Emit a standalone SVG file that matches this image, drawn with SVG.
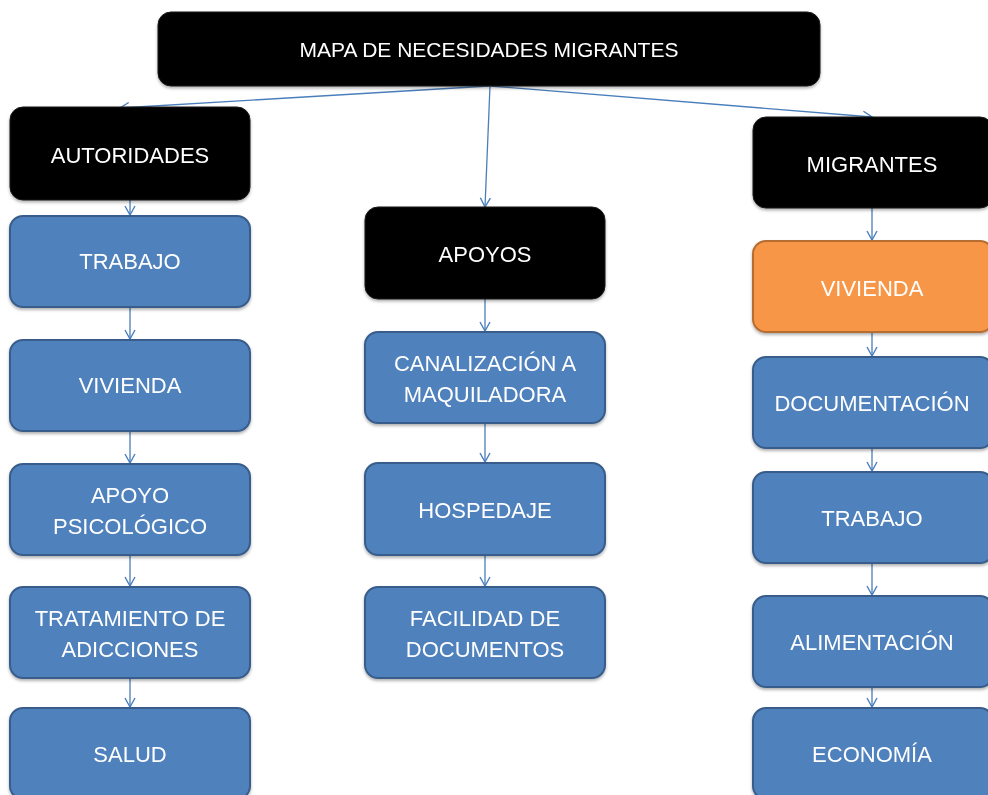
<svg xmlns="http://www.w3.org/2000/svg" width="988" height="795" viewBox="0 0 988 795">
<style>
.lbl{font-family:"Liberation Sans",Arial,sans-serif;font-size:22px;fill:#ffffff;text-anchor:middle}
.title{font-size:21px}
.blk{fill:#000000;stroke:#1a1a1a;stroke-width:1}
.blu{fill:#4F81BD;stroke:#385D8A;stroke-width:2}
.org{fill:#F79646;stroke:#B66D31;stroke-width:2}
.con{stroke:#4A7EBB;stroke-width:1.3;fill:none;marker-end:url(#ah)}
</style>
<defs>
<marker id="ah" viewBox="-11 -7 12 14" refX="0" refY="0" markerWidth="12" markerHeight="14" markerUnits="userSpaceOnUse" orient="auto">
<path d="M-9,-5 L0,0 L-9,5" fill="none" stroke="#4A7EBB" stroke-width="1.4"/>
</marker>
<filter id="sh" x="-10%" y="-10%" width="120%" height="130%">
<feDropShadow dx="0" dy="2" stdDeviation="1.5" flood-color="#000" flood-opacity="0.3"/>
</filter>
</defs>
<rect width="988" height="795" fill="#ffffff"/>

<g id="connectors">
<line class="con" x1="489" y1="86" x2="120" y2="108"/>
<line class="con" x1="490" y1="86" x2="485" y2="207"/>
<line class="con" x1="490" y1="86" x2="872" y2="117"/>
<line class="con" x1="130" y1="200" x2="130" y2="215"/>
<line class="con" x1="130" y1="307" x2="130" y2="339"/>
<line class="con" x1="130" y1="431" x2="130" y2="463"/>
<line class="con" x1="130" y1="555" x2="130" y2="586"/>
<line class="con" x1="130" y1="678" x2="130" y2="707"/>
<line class="con" x1="485" y1="299" x2="485" y2="331"/>
<line class="con" x1="485" y1="423" x2="485" y2="462"/>
<line class="con" x1="485" y1="555" x2="485" y2="586"/>
<line class="con" x1="872" y1="208" x2="872" y2="240"/>
<line class="con" x1="872" y1="332" x2="872" y2="356"/>
<line class="con" x1="872" y1="448" x2="872" y2="471"/>
<line class="con" x1="872" y1="563" x2="872" y2="595"/>
<line class="con" x1="872" y1="687" x2="872" y2="707"/>
</g>

<g id="n-mapa" filter="url(#sh)">
<rect class="blk" x="158" y="12" width="662" height="74" rx="13"/>
<text class="lbl title" x="489" y="57">MAPA DE NECESIDADES MIGRANTES</text>
</g>

<g id="n-autoridades" filter="url(#sh)">
<rect class="blk" x="10" y="107" width="240" height="93" rx="13"/>
<text class="lbl" x="130" y="163">AUTORIDADES</text>
</g>
<g id="n-a-trabajo" filter="url(#sh)">
<rect class="blu" x="10" y="216" width="240" height="91" rx="13"/>
<text class="lbl" x="130" y="269">TRABAJO</text>
</g>
<g id="n-a-vivienda" filter="url(#sh)">
<rect class="blu" x="10" y="340" width="240" height="91" rx="13"/>
<text class="lbl" x="130" y="393">VIVIENDA</text>
</g>
<g id="n-a-apoyo" filter="url(#sh)">
<rect class="blu" x="10" y="464" width="240" height="91" rx="13"/>
<text class="lbl" x="130" y="503">APOYO</text>
<text class="lbl" x="130" y="534">PSICOLÓGICO</text>
</g>
<g id="n-a-tratamiento" filter="url(#sh)">
<rect class="blu" x="10" y="587" width="240" height="91" rx="13"/>
<text class="lbl" x="130" y="626">TRATAMIENTO DE</text>
<text class="lbl" x="130" y="657">ADICCIONES</text>
</g>
<g id="n-a-salud" filter="url(#sh)">
<rect class="blu" x="10" y="708" width="240" height="91" rx="13"/>
<text class="lbl" x="130" y="762">SALUD</text>
</g>

<g id="n-apoyos" filter="url(#sh)">
<rect class="blk" x="365" y="207" width="240" height="92" rx="13"/>
<text class="lbl" x="485" y="262">APOYOS</text>
</g>
<g id="n-p-canalizacion" filter="url(#sh)">
<rect class="blu" x="365" y="332" width="240" height="91" rx="13"/>
<text class="lbl" x="485" y="371">CANALIZACIÓN A</text>
<text class="lbl" x="485" y="402">MAQUILADORA</text>
</g>
<g id="n-p-hospedaje" filter="url(#sh)">
<rect class="blu" x="365" y="463" width="240" height="92" rx="13"/>
<text class="lbl" x="485" y="518">HOSPEDAJE</text>
</g>
<g id="n-p-facilidad" filter="url(#sh)">
<rect class="blu" x="365" y="587" width="240" height="91" rx="13"/>
<text class="lbl" x="485" y="626">FACILIDAD DE</text>
<text class="lbl" x="485" y="657">DOCUMENTOS</text>
</g>

<g id="n-migrantes" filter="url(#sh)">
<rect class="blk" x="753" y="117" width="240" height="91" rx="13"/>
<text class="lbl" x="872" y="172">MIGRANTES</text>
</g>
<g id="n-m-vivienda" filter="url(#sh)">
<rect class="org" x="753" y="241" width="240" height="91" rx="13"/>
<text class="lbl" x="872" y="296">VIVIENDA</text>
</g>
<g id="n-m-documentacion" filter="url(#sh)">
<rect class="blu" x="753" y="357" width="240" height="91" rx="13"/>
<text class="lbl" x="872" y="411">DOCUMENTACIÓN</text>
</g>
<g id="n-m-trabajo" filter="url(#sh)">
<rect class="blu" x="753" y="472" width="240" height="91" rx="13"/>
<text class="lbl" x="872" y="526">TRABAJO</text>
</g>
<g id="n-m-alimentacion" filter="url(#sh)">
<rect class="blu" x="753" y="596" width="240" height="91" rx="13"/>
<text class="lbl" x="872" y="650">ALIMENTACIÓN</text>
</g>
<g id="n-m-economia" filter="url(#sh)">
<rect class="blu" x="753" y="708" width="240" height="91" rx="13"/>
<text class="lbl" x="872" y="762">ECONOMÍA</text>
</g>
</svg>
